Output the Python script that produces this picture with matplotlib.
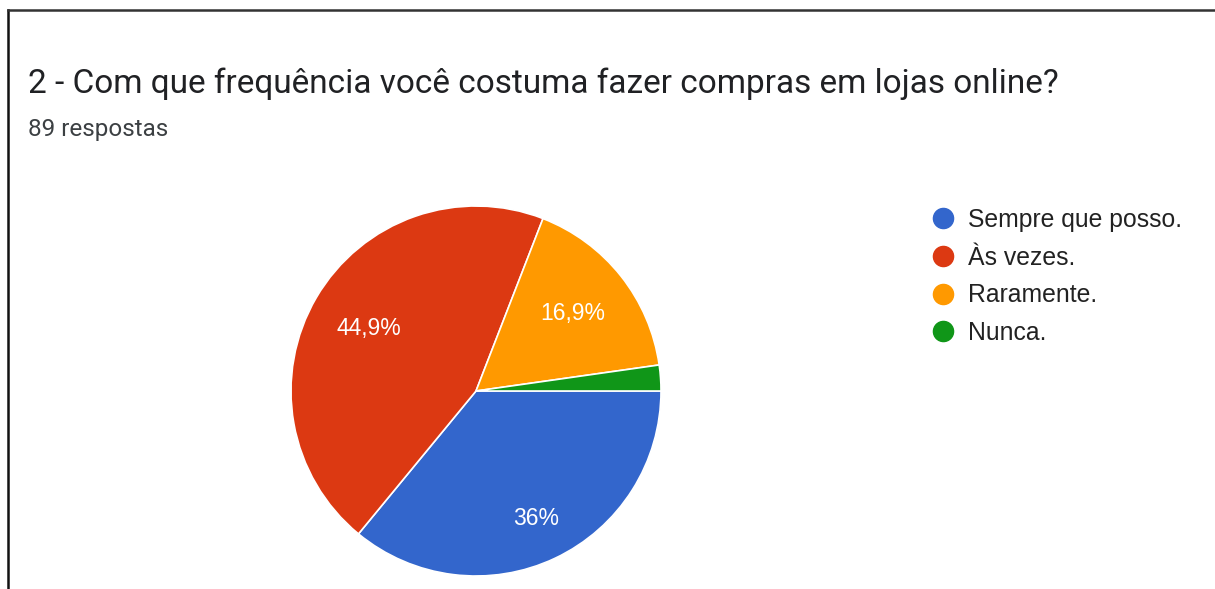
import matplotlib
matplotlib.use("Agg")
import matplotlib.pyplot as plt
from matplotlib.lines import Line2D
import numpy as np

# Survey answers (89 responses)
categories = ["Sempre que posso.", "Às vezes.", "Raramente.", "Nunca."]
counts = [32, 40, 15, 2]
colors = ["#3366CC", "#DC3912", "#FF9900", "#109618"]
title = "2 - Com que frequência você costuma fazer compras em lojas online?"
subtitle = "89 respostas"

W, H = 1215, 589
plt.rcParams['font.family'] = ['Roboto', 'DejaVu Sans']
arial = ['Liberation Sans', 'DejaVu Sans']

fig = plt.figure(figsize=(W / 100, H / 100), dpi=100)
fig.patch.set_facecolor("white")


# pixel (from top-left) to figure fraction
def px(x, y):
    return x / W, 1 - y / H


# pie placed by pixel center / radius
cx, cy, r = 476, 391, 185
ax = fig.add_axes([(cx - r) / W, (H - cy - r) / H, 2 * r / W, 2 * r / H])
wedges, _ = ax.pie(counts, colors=colors, startangle=0, counterclock=False,
                   wedgeprops=dict(edgecolor="white", linewidth=1.2))
ax.set_xlim(-1, 1)
ax.set_ylim(-1, 1)
ax.set_aspect("auto")

# percentage labels, Google style with comma decimal
total = sum(counts)
label_dist = [0.76, 0.67, 0.67, 0.7]
for w, c, d in zip(wedges, counts, label_dist):
    pct = 100 * c / total
    if pct < 5:
        continue
    s = ("%.1f" % pct).rstrip("0").rstrip(".").replace(".", ",") + "%"
    ang = np.deg2rad((w.theta1 + w.theta2) / 2)
    ax.text(d * np.cos(ang), d * np.sin(ang), s, ha="center", va="center",
            color="white", fontsize=16.5, family=arial)

fig.text(*px(28, 93), title, fontsize=24, color="#202124", va="baseline", ha="left")
fig.text(*px(28, 136), subtitle, fontsize=17.5, color="#3c4043", va="baseline", ha="left")

# legend
handles = [Line2D([], [], marker="o", linestyle="", markersize=14.5,
                  markerfacecolor=col, markeredgecolor=col) for col in colors]
leg = fig.legend(handles, categories, loc="upper left",
                 bbox_to_anchor=px(932, 208), frameon=False,
                 prop=dict(family=arial, size=17.8),
                 handletextpad=0.55, labelspacing=0.55, handlelength=0.9,
                 borderpad=0, borderaxespad=0)
for t in leg.get_texts():
    t.set_color("#222222")

# screenshot border (left and top)
fig.add_artist(Line2D([8 / W, 8 / W], [0, 1 - 10 / H], color="#111111", linewidth=1.8))
fig.add_artist(Line2D([8 / W, 1], [1 - 10 / H, 1 - 10 / H], color="#333333", linewidth=1.8))

plt.savefig("out.png", dpi=100)
